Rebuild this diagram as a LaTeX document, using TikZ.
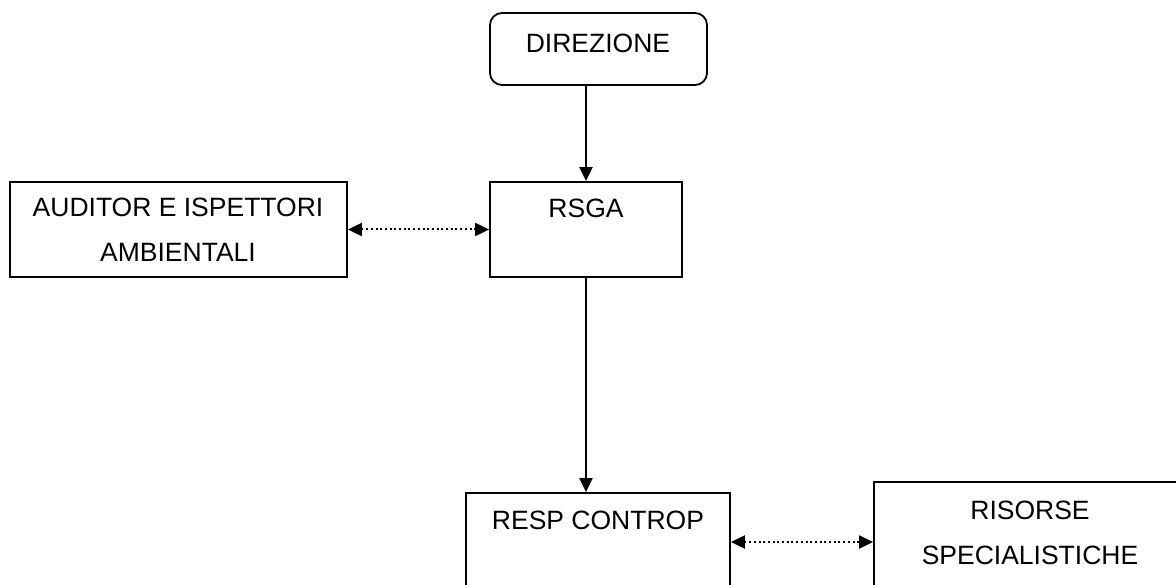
\documentclass[tikz,border=0pt]{standalone}
\usepackage{fontspec}
\setmainfont{Liberation Sans}
\usetikzlibrary{arrows.meta}
\begin{document}
\begin{tikzpicture}[x=1pt,y=-1pt,
  box/.style={draw=black,line width=1.8pt,rectangle,inner sep=0pt,fill=white},
  lbl/.style={inner sep=0pt,font=\fontsize{26.5}{30}\selectfont},
  solidarrow/.style={line width=2pt,-{Triangle[length=14pt,width=13pt]}},
  dotarrow/.style={line width=2pt,dash pattern=on 2pt off 2.7pt,{Triangle[length=14pt,width=13pt]}-{Triangle[length=14pt,width=13pt]}}
]
\useasboundingbox (0,0) rectangle (1176,585);
\fill[white] (0,0) rectangle (1176,585);
\begin{scope}
\clip (0,0) rectangle (1176,585);
\node[box,rounded corners=12pt,minimum width=217pt,minimum height=72pt] (dir) at (598.5,49) {};
\node[box,minimum width=192pt,minimum height=95pt] (rsga) at (586,229.5) {};
\node[box,minimum width=337pt,minimum height=95pt] (aud) at (178.5,229.5) {};
\node[box,minimum width=264pt,minimum height=98pt] (resp) at (598,542) {};
\node[box,minimum width=312pt,minimum height=120pt] (ris) at (1030,542) {};

\node[lbl] (tdir) at (598,43) {DIREZIONE};
\node[lbl] (trsga) at (586,208) {RSGA};
\node[lbl] (taud1) at (178,207) {AUDITOR E ISPETTORI};
\node[lbl] (taud2) at (178,252) {AMBIENTALI};
\node[lbl] (tresp) at (598,520) {RESP CONTROP};
\node[lbl] (tris1) at (1030,510) {RISORSE};
\node[lbl] (tris2) at (1030,555) {SPECIALISTICHE};

\draw[solidarrow] (rsga.north |- dir.south) -- (rsga.north);
\draw[solidarrow] (rsga.south) -- (rsga.south |- resp.north);
\draw[dotarrow] (aud.east) -- (rsga.west);
\draw[dotarrow] (resp.east) -- (ris.west);
\end{scope}
\end{tikzpicture}
\end{document}
